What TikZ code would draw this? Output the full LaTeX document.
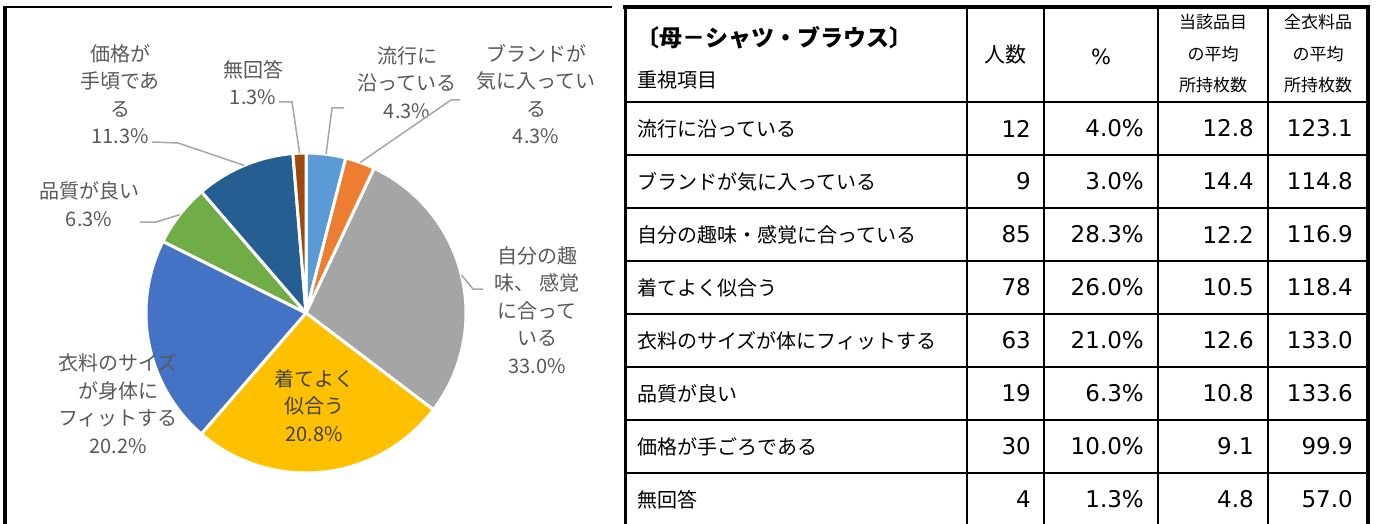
\documentclass[tikz,border=0pt]{standalone}
\usepackage{fontspec}
\setmainfont{Noto Sans CJK JP}
\newfontfamily\jp{Noto Sans CJK JP}
\newfontfamily\num{DejaVu Sans}
\definecolor{cA}{HTML}{5B9BD5}
\definecolor{cB}{HTML}{ED7D31}
\definecolor{cC}{HTML}{A5A5A5}
\definecolor{cD}{HTML}{FFC000}
\definecolor{cE}{HTML}{4472C4}
\definecolor{cF}{HTML}{70AD47}
\definecolor{cG}{HTML}{255E91}
\definecolor{cH}{HTML}{9E480E}
\definecolor{labgray}{HTML}{595959}
\definecolor{labdark}{HTML}{404040}
\definecolor{leadgray}{HTML}{A6A6A6}
\tikzset{
  lab/.style={font=\jp\fontsize{20}{27.5}\selectfont, text=labgray, align=center, inner sep=0pt},
  leader/.style={draw=leadgray, line width=1.5pt},
  slice/.style={draw=white, line width=3pt, line join=round},
  tline/.style={line width=2.5pt, line cap=rect},
  tborder/.style={line width=4pt},
  cellt/.style={font=\jp\fontsize{20}{24}\selectfont, anchor=west, inner sep=0pt},
  celln/.style={font=\num\fontsize{23}{26}\selectfont, anchor=east, inner sep=0pt},
  hsmall/.style={font=\jp\fontsize{17}{31.5}\selectfont, align=center, inner sep=0pt}
}
\begin{document}
\begin{tikzpicture}[x=1pt,y=-1pt]
\clip (0,0) rectangle (1377,524);
\fill[white] (0,0) rectangle (1377,524);
% chart frame
\draw[line width=2.5pt] (3,7) -- (612,7);
\draw[line width=4pt] (5,7) -- (5,530);
% pie
\begin{scope}[shift={(306,313)}, yscale=-1]
\foreach \a/\b/\c in {90/75.59/cA, 75.59/64.78/cB, 64.78/-37.20/cC, -37.20/-130.89/cD, -130.89/-206.57/cE, -206.57/-229.27/cF, -229.27/-265.31/cG, -265.31/-270/cH}
  \fill[\c, slice] (0,0) -- (\a:160) arc[start angle=\a, end angle=\b, radius=160] -- cycle;
\coordinate (e1) at (82.8:160);
\coordinate (e2) at (70.2:160);
\coordinate (e3) at (13.8:160);
\coordinate (e5) at (142.1:160);
\coordinate (e7) at (112.7:160);
\coordinate (e8) at (92.3:160);
\end{scope}
% labels
\node[lab] (L1) at (407,82.5) {流行に\\沿っている\\4.3\%};
\node[lab] (L2) at (536,94) {ブランドが\\気に入ってい\\る\\4.3\%};
\node[lab] (L3) at (537,310) {自分の趣\\味、 感覚\\に合って\\いる\\33.0\%};
\node[lab, text=labdark] (L4) at (314,405.5) {着てよく\\似合う\\20.8\%};
\node[lab] (L5) at (118,403.5) {衣料のサイズ\\が身体に\\フィットする\\20.2\%};
\node[lab] (L6) at (89,204) {品質が良い\\6.3\%};
\node[lab] (L7) at (120,94) {価格が\\手頃であ\\る\\11.3\%};
\node[lab] (L8) at (253,82.5) {無回答\\1.3\%};
% leader lines
\coordinate (s1) at (344,108); \coordinate (k1) at (332,108);
\coordinate (s2) at (460,100); \coordinate (k2) at (451,100);
\coordinate (s3) at (483,289); \coordinate (k3) at (473,289);
\coordinate (s6) at (140,222); \coordinate (k6) at (156,222);
\coordinate (s7) at (152,142); \coordinate (k7) at (178,143);
\coordinate (s8) at (279,102); \coordinate (k8) at (292,102);
\draw[leader] (s1) -- (k1) -- (e1);
\draw[leader] (s2) -- (k2) -- (e2);
\draw[leader] (s3) -- (k3) -- (e3);
\draw[leader] (s6) -- (k6) -- (e5);
\draw[leader] (s7) -- (k7) -- (e7);
\draw[leader] (s8) -- (k8) -- (e8);
% table lines
\foreach \y in {102,155,208,261,314,367,420,473}
  \draw[tline] (625,\y) -- (1368,\y);
\foreach \x in {967,1044,1158,1268}
  \draw[tline] (\x,7) -- (\x,530);
\draw[line width=3pt] (625,7) -- (625,530);
\draw[tborder] (1368,7) -- (1368,530);
\draw[tborder] (623,7) -- (1370,7);
% header
\node[cellt, font=\jp\bfseries\fontsize{23}{26}\selectfont] (h0) at (636,38) {〔母－シャツ・ブラウス〕};
\node[cellt] (h1) at (637,80) {重視項目};
\node[inner sep=0pt, font=\jp\fontsize{21}{24}\selectfont] (h2) at (1005.5,55) {人数};
\node[inner sep=0pt, font=\num\fontsize{21}{24}\selectfont] (h3) at (1101,57) {\%};
\node[hsmall] (h4) at (1213,54) {当該品目\\の平均\\所持枚数};
\node[hsmall] (h5) at (1318,54) {全衣料品\\の平均\\所持枚数};
% rows
\foreach \y/\t/\n/\p/\m/\w [count=\i] in {
  128.5/流行に沿っている/12/4.0\%/12.8/123.1,
  181.5/ブランドが気に入っている/9/3.0\%/14.4/114.8,
  234.5/自分の趣味・感覚に合っている/85/28.3\%/12.2/116.9,
  287.5/着てよく似合う/78/26.0\%/10.5/118.4,
  340.5/衣料のサイズが体にフィットする/63/21.0\%/12.6/133.0,
  393.5/品質が良い/19/6.3\%/10.8/133.6,
  446.5/価格が手ごろである/30/10.0\%/9.1/99.9,
  499.5/無回答/4/1.3\%/4.8/57.0}
{
  \node[cellt] (r\i t) at (637,\y) {\t};
  \node[celln] (r\i n) at (1031,\y) {\n};
  \node[celln] (r\i p) at (1144,\y) {\p};
  \node[celln] (r\i m) at (1254,\y) {\m};
  \node[celln] (r\i w) at (1353,\y) {\w};
}
\end{tikzpicture}
\end{document}
